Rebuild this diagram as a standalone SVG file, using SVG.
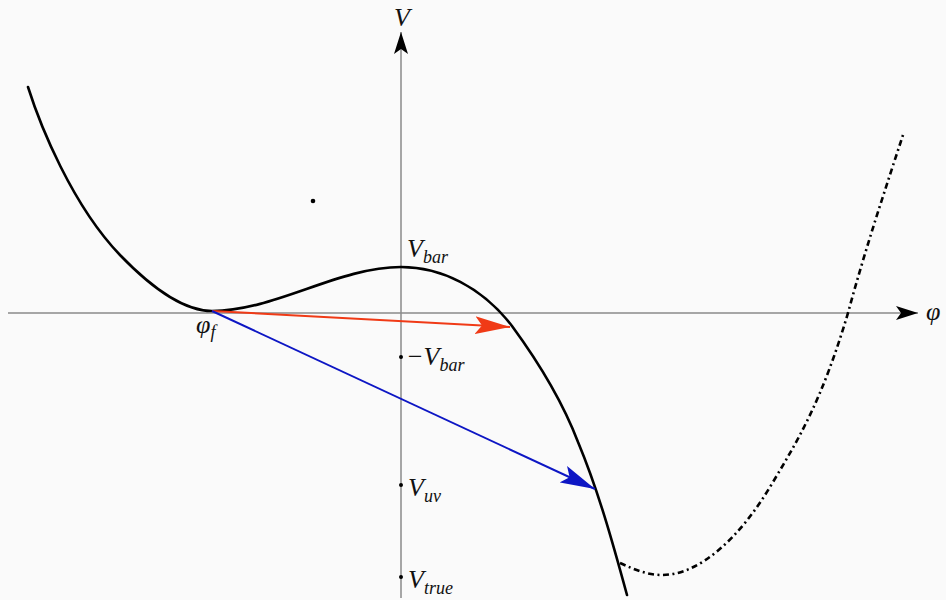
<svg xmlns="http://www.w3.org/2000/svg" width="946" height="600" viewBox="0 0 946 600">
<style>
.axis{stroke:#8a8a8a;stroke-width:1.5;fill:none}
.curve{stroke:#000;stroke-width:2.6;fill:none;stroke-linecap:round}
.dashed{stroke:#000;stroke-width:2.6;fill:none;stroke-dasharray:6 3.5 2 3.5}
.lbl{font-family:"Liberation Serif","DejaVu Serif",serif;font-style:italic;fill:#111}
.big{font-size:26px}
.sub{font-size:18px}
</style>
<defs>
<marker id="axhead" markerWidth="24" markerHeight="16" refX="22" refY="8" orient="auto" markerUnits="userSpaceOnUse">
<path d="M0,1 L22,8 L0,15 L5,8 Z" fill="#000"/>
</marker>
<marker id="redhead" markerWidth="36" markerHeight="18" refX="35" refY="9" orient="auto" markerUnits="userSpaceOnUse">
<path d="M0,0 L35,9 L0,18 L7,9 Z" fill="#f03a16"/>
</marker>
<marker id="bluehead" markerWidth="36" markerHeight="18" refX="35" refY="9" orient="auto" markerUnits="userSpaceOnUse">
<path d="M0,0 L35,9 L0,18 L7,9 Z" fill="#0d16c4"/>
</marker>
</defs>
<rect width="946" height="600" fill="#fafafa"/>
<g id="axes">
<line class="axis" x1="8" y1="313" x2="918" y2="313" marker-end="url(#axhead)"/>
<line class="axis" x1="401" y1="598" x2="401" y2="32" marker-end="url(#axhead)"/>
</g>
<g id="potential">
<path class="curve" d="M28,87 C40,125 72,205 120,255 C146,282 180,311 212,311 C275,311 338,267 401,267 C441,267 482,287 512,326 C534,356 560,395 578,442 C598,490 612,540 627,595"/>
</g>
<g id="continuation">
<path class="dashed" d="M620,563 C635,570 648,575 662,575 C700,575 740,537 770,487 C800,437 822,400 848,313 C865,250 885,190 903,135"/>
</g>
<g id="connectors">
<line x1="212" y1="311" x2="510" y2="327" stroke="#f03a16" stroke-width="2" marker-end="url(#redhead)"/>
<line x1="212" y1="311" x2="595" y2="489" stroke="#0d16c4" stroke-width="2" marker-end="url(#bluehead)"/>
</g>
<g id="points">
<circle cx="313" cy="201" r="2.3" fill="#000"/>
<circle cx="401" cy="357" r="2" fill="#000"/>
<circle cx="401" cy="485" r="2" fill="#000"/>
<circle cx="401" cy="577" r="2" fill="#000"/>
</g>
<g id="labels">
<text class="lbl big" x="394" y="26">V</text>
<text class="lbl big" x="926" y="320">φ</text>
<text class="lbl big" x="196" y="333">φ<tspan class="sub" dy="5">f</tspan></text>
<text class="lbl big" x="407" y="257">V<tspan class="sub" dy="6">bar</tspan></text>
<text class="lbl big" x="406" y="365">−V<tspan class="sub" dy="6">bar</tspan></text>
<text class="lbl big" x="408" y="496">V<tspan class="sub" dy="6">uv</tspan></text>
<text class="lbl big" x="408" y="588">V<tspan class="sub" dy="6">true</tspan></text>
</g>
</svg>
